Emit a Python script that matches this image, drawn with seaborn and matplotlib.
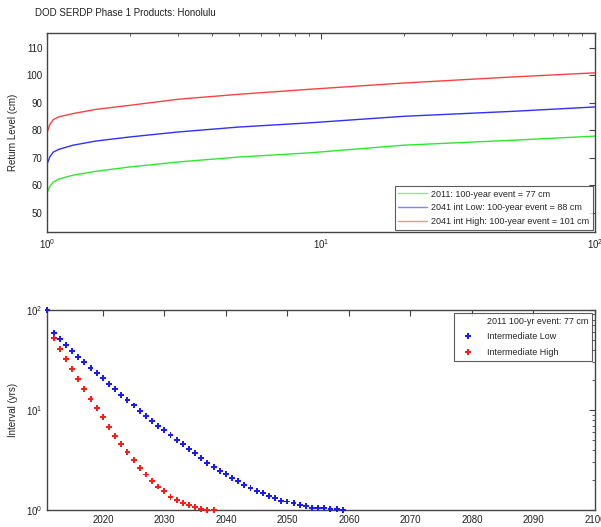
import numpy as np
import pandas as pd
import matplotlib
matplotlib.use("Agg")
import matplotlib.pyplot as plt
import seaborn as sns
from matplotlib.lines import Line2D

# ---- data: top panel (return period vs return level) ----
return_period = [1.0, 1.02, 1.05, 1.1, 1.24, 1.5, 2, 3, 5, 9, 20, 50, 100]
level_2011 = [57.5, 59.5, 61.1, 62.2, 63.6, 65.0, 66.6, 68.4, 70.2, 71.7, 74.5, 76.3, 77.8]
level_2041_low = [68.0, 70.3, 72.0, 73.0, 74.5, 76.0, 77.5, 79.3, 81.1, 82.6, 85.0, 86.8, 88.4]
level_2041_high = [79.5, 82.0, 83.8, 84.8, 86.0, 87.5, 89.0, 91.2, 93.0, 94.8, 97.1, 99.3, 100.8]
top_labels = ["2011: 100-year event = 77 cm",
              "2041 int Low: 100-year event = 88 cm",
              "2041 int High: 100-year event = 101 cm"]

# ---- data: bottom panel (year vs recurrence interval) ----
years_low = list(range(2011, 2060))
interval_low = [100, 58.5, 51, 44.7, 38.9, 34.1, 30.0, 26.5, 23.6, 20.7,
                18.2, 16.1, 14.2, 12.6, 11.1, 9.8, 8.7, 7.76, 6.97, 6.26,
                5.62, 5.0, 4.54, 4.07, 3.69, 3.34, 2.97, 2.71, 2.47, 2.29,
                2.10, 1.94, 1.79, 1.66, 1.56, 1.48, 1.38, 1.31, 1.24, 1.22,
                1.17, 1.13, 1.10, 1.06, 1.05, 1.04, 1.02, 1.02, 1.01]
years_high = list(range(2012, 2039))
interval_high = [52, 40.7, 32.1, 25.5, 20.3, 16.2, 13.0, 10.5, 8.45, 6.81,
                 5.5, 4.54, 3.78, 3.16, 2.65, 2.27, 1.96, 1.72, 1.54, 1.36,
                 1.26, 1.18, 1.12, 1.08, 1.02, 1.01, 1.0]
bottom_labels = ["2011 100-yr event: 77 cm", "Intermediate Low", "Intermediate High"]

sns.set_style("white")
plt.rcParams['font.family'] = ['Liberation Sans', 'DejaVu Sans']

fig = plt.figure(figsize=(6.01, 5.27), dpi=100)
ax1 = fig.add_axes([0.079, 0.560, 0.911, 0.377])
ax2 = fig.add_axes([0.079, 0.032, 0.911, 0.380])

top_df = pd.DataFrame({
    "period": return_period * 3,
    "level": level_2011 + level_2041_low + level_2041_high,
    "series": [top_labels[0]] * len(return_period) + [top_labels[1]] * len(return_period)
              + [top_labels[2]] * len(return_period),
})
top_colors = {top_labels[0]: "#2ee82e", top_labels[1]: "#3030ff", top_labels[2]: "#ff4040"}
sns.lineplot(data=top_df, x="period", y="level", hue="series", palette=top_colors,
             ax=ax1, linewidth=1.0, legend=False)
ax1.set_xscale("log")
ax1.set_xlim(1, 100)
ax1.set_ylim(43, 115.2)
ax1.set_yticks([50, 60, 70, 80, 90, 100, 110])
ax1.set_xlabel("")
ax1.set_ylabel("Return Level (cm)", fontsize=7, color="#222222", labelpad=6)
handles = [Line2D([], [], color=c, lw=1.0, alpha=0.6) for c in top_colors.values()]
leg1 = ax1.legend(handles, top_labels, loc="lower right", fontsize=6.5, frameon=True,
                  fancybox=False, edgecolor="#333333", borderaxespad=0.25,
                  handlelength=3.2, handletextpad=0.5, labelspacing=0.55, borderpad=0.35)
leg1.get_frame().set_linewidth(0.8)

bot_df = pd.DataFrame({
    "year": years_low + years_high,
    "interval": interval_low + interval_high,
    "series": [bottom_labels[1]] * len(years_low) + [bottom_labels[2]] * len(years_high),
})
bot_colors = {bottom_labels[1]: "#1a1aff", bottom_labels[2]: "#ff1a1a"}
sns.scatterplot(data=bot_df, x="year", y="interval", hue="series", palette=bot_colors,
                marker="P", s=18, linewidth=0, ax=ax2, legend=False, zorder=3)
for coll in ax2.collections:
    coll.set_clip_on(False)
ax2.set_yscale("log")
ax2.set_xlim(2011, 2100)
ax2.set_ylim(1, 100)
ax2.set_xticks(range(2020, 2101, 10))
ax2.set_xlabel("")
ax2.set_ylabel("Interval (yrs)", fontsize=7, color="#222222", labelpad=6)
h2 = [Line2D([], [], linestyle="none", marker=None),
      Line2D([], [], linestyle="none", marker="P", markersize=4.5, color=bot_colors[bottom_labels[1]], markeredgewidth=0),
      Line2D([], [], linestyle="none", marker="P", markersize=4.5, color=bot_colors[bottom_labels[2]], markeredgewidth=0)]
leg2 = ax2.legend(h2, bottom_labels, loc="upper right", fontsize=6.5, frameon=True,
                  fancybox=False, edgecolor="#333333", borderaxespad=0.3,
                  handlelength=2.2, handletextpad=1.0, labelspacing=0.75, borderpad=0.45)
leg2.get_frame().set_linewidth(0.8)

for ax in (ax1, ax2):
    for sp in ax.spines.values():
        sp.set_color("#444444")
        sp.set_linewidth(1.0)
    ax.tick_params(axis="both", which="both", direction="in", top=True, right=True,
                   labelsize=7, colors="#444444", labelcolor="#222222")
    ax.tick_params(which="major", length=4, width=0.8)
    ax.tick_params(which="minor", length=2.5, width=0.6)
    ax.grid(False)

fig.text(0.058, 0.975, "DOD SERDP Phase 1 Products: Honolulu", fontsize=7, color="#222222",
         ha="left", va="center")

fig.savefig("out.png", dpi=100, facecolor="white")
